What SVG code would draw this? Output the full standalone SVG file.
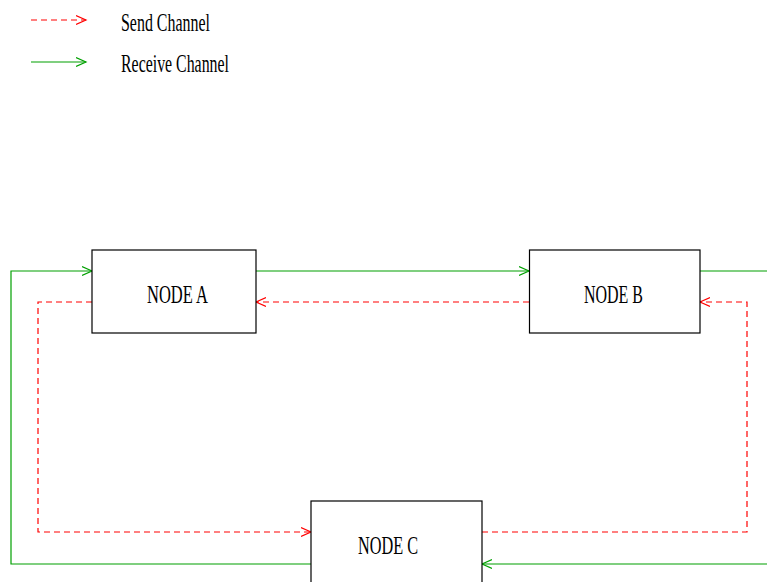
<svg xmlns="http://www.w3.org/2000/svg" width="767" height="582" viewBox="0 0 767 582">
<style>
.box{fill:#fff;stroke:#000;stroke-width:1.2}
.lbl{font-family:"Liberation Serif","Times New Roman",serif;font-size:26px;fill:#000}
.send{fill:none;stroke:#ff0000;stroke-width:1.2;stroke-dasharray:6 4}
.recv{fill:none;stroke:#00a000;stroke-width:1.2}
</style>
<defs>
<marker id="ar" markerUnits="userSpaceOnUse" markerWidth="12" markerHeight="12" refX="10" refY="5" orient="auto" viewBox="0 0 12 10">
<path d="M0,0.5 L10,5 L0,9.5" fill="none" stroke="#ff0000" stroke-width="1.2"/>
</marker>
<marker id="ag" markerUnits="userSpaceOnUse" markerWidth="12" markerHeight="12" refX="10" refY="5" orient="auto" viewBox="0 0 12 10">
<path d="M0,0.5 L10,5 L0,9.5" fill="none" stroke="#00a000" stroke-width="1.2"/>
</marker>
</defs>
<rect width="767" height="582" fill="#fff"/>
<g id="legend">
<path class="send" d="M31,20 H86" marker-end="url(#ar)"/>
<path class="recv" d="M31,62 H86" marker-end="url(#ag)"/>
<text class="lbl" x="121" y="31" textLength="89" lengthAdjust="spacingAndGlyphs">Send Channel</text>
<text class="lbl" x="121" y="72" textLength="108" lengthAdjust="spacingAndGlyphs">Receive Channel</text>
</g>
<g id="connectors">
<path class="recv" d="M256,271 H529" marker-end="url(#ag)"/>
<path class="recv" d="M700,271 H780 V564 H482" marker-end="url(#ag)"/>
<path class="recv" d="M311,564 H11 V271 H92" marker-end="url(#ag)"/>
<path class="send" d="M529,302 H256" marker-end="url(#ar)"/>
<path class="send" d="M92,302 H38 V532 H311" marker-end="url(#ar)"/>
<path class="send" d="M482,532 H747 V302 H700" marker-end="url(#ar)"/>
</g>
<g id="nodeA">
<rect class="box" x="92" y="250" width="164" height="83"/>
<text class="lbl" x="147" y="303" textLength="61" lengthAdjust="spacingAndGlyphs">NODE A</text>
</g>
<g id="nodeB">
<rect class="box" x="529.5" y="250" width="170.5" height="83"/>
<text class="lbl" x="584" y="303" textLength="59" lengthAdjust="spacingAndGlyphs">NODE B</text>
</g>
<g id="nodeC">
<rect class="box" x="311" y="501" width="171" height="90"/>
<text class="lbl" x="358" y="554" textLength="60" lengthAdjust="spacingAndGlyphs">NODE C</text>
</g>
</svg>
